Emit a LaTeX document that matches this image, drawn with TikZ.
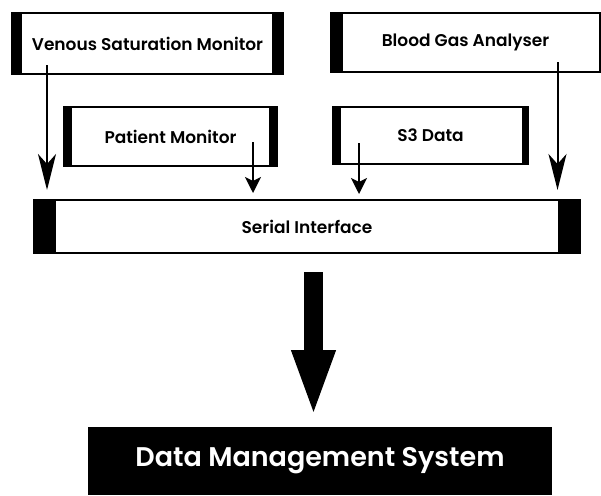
\documentclass[tikz,border=0pt]{standalone}
\usepackage{fontspec}
\setmainfont{Poppins}[UprightFont=* SemiBold]
\usetikzlibrary{arrows.meta, positioning}
\tikzset{>=latex}
\tikzset{
  unit/.style={draw, line width=2pt, outer sep=0pt, inner sep=0pt, font=\fontsize{17}{19}\selectfont},
  feed/.style={line width=2pt, -{Stealth[length=16pt, width=16pt, inset=4pt]}},
  longfeed/.style={line width=2pt, -{Stealth[length=36pt, width=18pt, inset=10pt]}},
  bigarrow/.style={line width=19pt, -{Triangle[length=68pt, width=39pt]}}
}

\begin{document}
\begin{tikzpicture}[x=1pt, y=1pt]
\useasboundingbox (0,0) rectangle (601,-495);

% sources
\node[unit, minimum width=271pt, minimum height=61pt] (vsm) at (147.5,-43.5) {Venous Saturation Monitor};
\node[unit, minimum width=269pt, minimum height=59pt] (bga) at (465.5,-42.5) {Blood Gas Analyser};
\node[unit, minimum width=213pt, minimum height=59pt] (pm) at (170.5,-136.5) {Patient Monitor};
\node[unit, minimum width=195pt, minimum height=57pt] (sthree) at (430.5,-135.5) {S3 Data};
\node[unit, minimum width=546pt, minimum height=53pt] (si) at (307,-226.5) {Serial Interface};
\node[fill=black, text=white, outer sep=0pt, minimum width=464pt, minimum height=68pt,
  font=\fontsize{27}{30}\selectfont] (dms) at (320,-461) {Data Management System};

% side bars
\fill (vsm.north west) rectangle ([xshift=10pt]vsm.south west);
\fill (vsm.north east) rectangle ([xshift=-11pt]vsm.south east);
\fill (bga.north west) rectangle ([xshift=12pt]bga.south west);
\fill (pm.north west) rectangle ([xshift=8pt]pm.south west);
\fill (pm.north east) rectangle ([xshift=-8pt]pm.south east);
\fill (sthree.north west) rectangle ([xshift=8pt]sthree.south west);
\fill (sthree.north east) rectangle ([xshift=-6pt]sthree.south east);
\fill (si.north west) rectangle ([xshift=22pt]si.south west);
\fill (si.north east) rectangle ([xshift=-22pt]si.south east);

% feeds into the interface
\coordinate (vout) at ([shift={(35,9)}]vsm.south west);
\coordinate (pout) at ([shift={(189,24)}]pm.south west);
\coordinate (sout) at ([shift={(26,21)}]sthree.south west);
\coordinate (bout) at ([shift={(226.5,10)}]bga.south west);
\draw[longfeed, shorten >=10pt] (vout) -- (vout |- si.north);
\draw[feed, shorten >=7pt] (pout) -- (pout |- si.north);
\draw[feed, shorten >=6pt] (sout) -- (sout |- si.north);
\draw[longfeed, shorten >=10pt] (bout) -- (bout |- si.north);

\draw[bigarrow] ([shift={(6.5,-19)}]si.south) -- ([shift={(-6.5,9)}]dms.north);
\end{tikzpicture}
\end{document}
